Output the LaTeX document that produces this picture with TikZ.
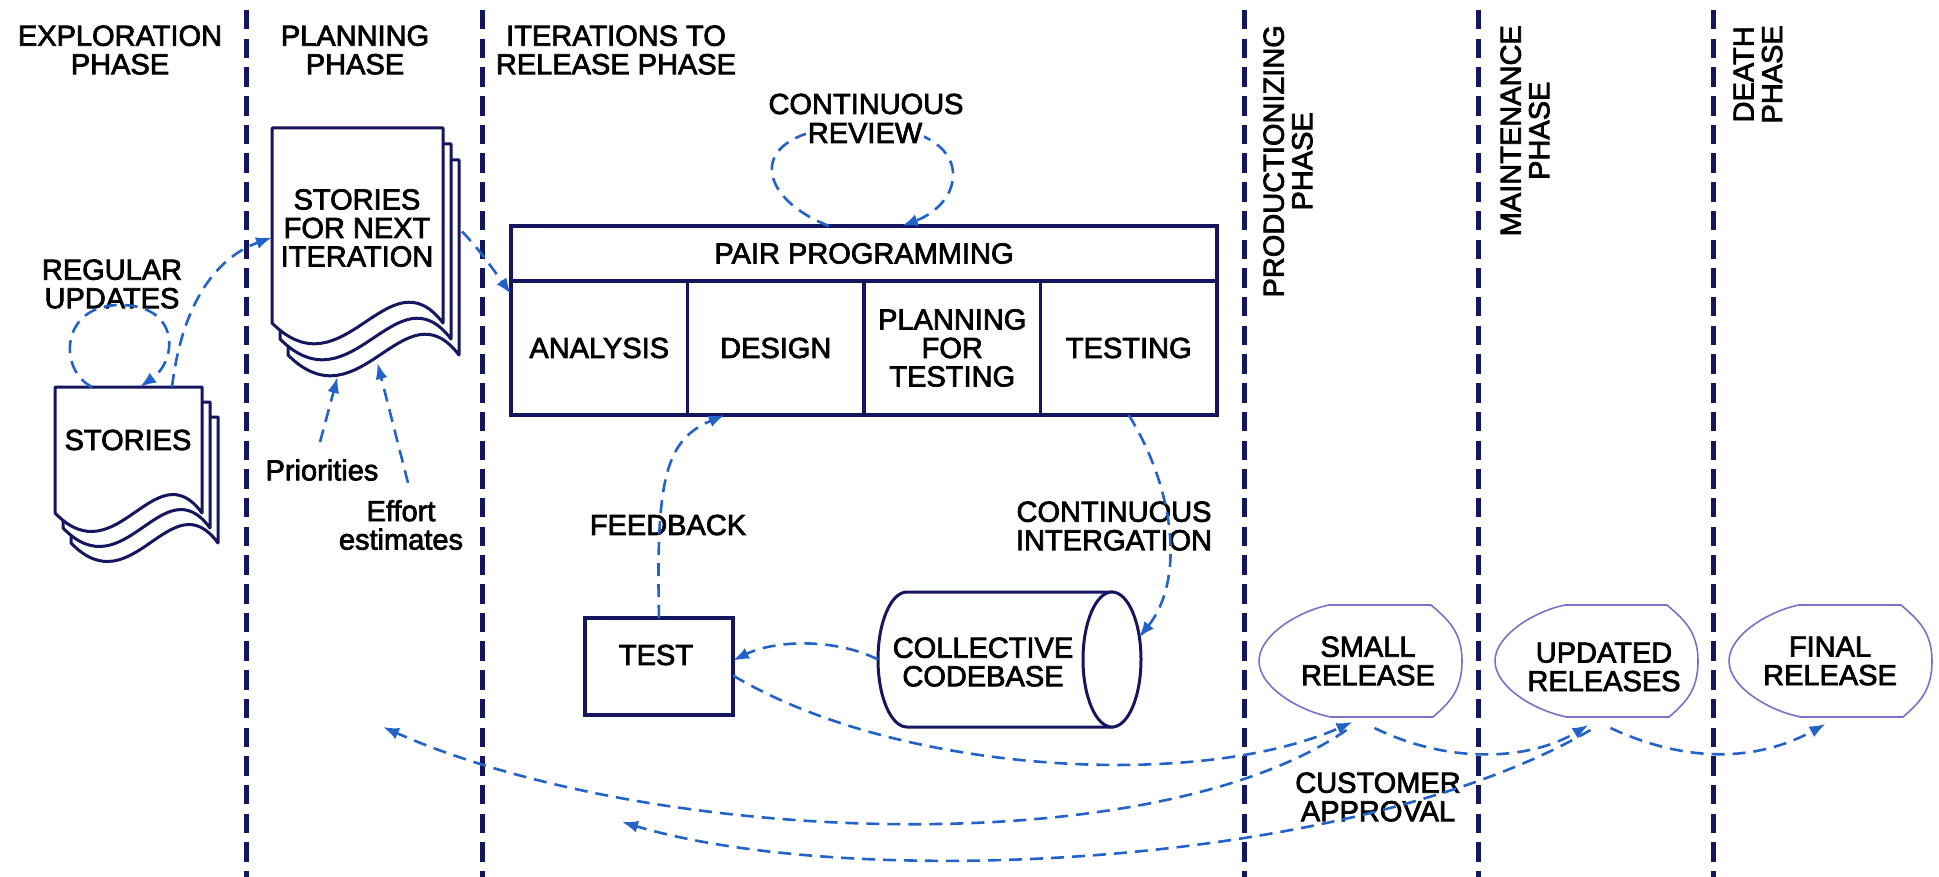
\documentclass[tikz,border=0pt]{standalone}
\usepackage{fontspec}
\setmainfont{Liberation Sans}[FakeBold=2.5]
\usetikzlibrary{arrows.meta,calc}

\definecolor{navy}{RGB}{22,22,96}
\definecolor{flowblue}{RGB}{35,98,200}
\definecolor{lilac}{RGB}{125,110,200}

\tikzset{
  phaseline/.style={navy, line width=5pt, dash pattern=on 19.5pt off 9.2pt},
  flow/.style={flowblue, line width=2.6pt, dash pattern=on 13pt off 8pt,
               -{Latex[length=16pt,width=12pt]}},
  lbl/.style={font=\fontsize{29}{28.5}\selectfont, align=center, inner sep=0pt, text=black},
  vlbl/.style={lbl, rotate=90, anchor=east},
  ppcell/.style={draw=navy, line width=3.5pt, minimum width=176.5pt, minimum height=134pt,
                 inner sep=0pt, outer sep=0pt, lbl},
  holder/.style={inner sep=0pt, outer sep=0pt},
  sheetline/.style={draw=navy, line width=3pt, fill=white, line join=round},
  cylline/.style={draw=navy, line width=3pt, fill=white},
  releaseline/.style={draw=lilac, line width=1.6pt, fill=white},
}

% one page of a stacked document, shifted by (#2,#3), wave depth #4
\newcommand{\docsheet}[4]{%
  \path[sheetline] ($(#1.north west)+(#2,#3)$) -- ($(#1.north east)+(#2,#3)$)
    -- ($(#1.south east)+(#2,#3)$)
    .. controls ($(#1.south west)!0.68!(#1.south east)+(#2,#3-#4)$)
       and ($(#1.south west)!0.42!(#1.south east)+(#2,#3+#4)$)
    .. ($(#1.south west)+(#2,#3)$) -- cycle;}

% release outline: wide bulge on the left, flatter arc on the right
\newcommand{\releaseshape}[1]{%
  \path[releaseline] ($(#1.north west)+(70,0)$) -- ($(#1.north west)+(172,0)$)
    .. controls ($(#1.north west)+(188,14)$) and ($(#1.east)+(0,-30)$) .. (#1.east)
    .. controls ($(#1.east)+(0,30)$) and ($(#1.south west)+(190,-14)$) .. ($(#1.south west)+(174,0)$)
    -- ($(#1.south west)+(72,0)$)
    .. controls ($(#1.south west)+(40,-6)$) and ($(#1.west)+(0,26)$) .. (#1.west)
    .. controls ($(#1.west)+(0,-26)$) and ($(#1.north west)+(40,6)$) .. cycle;}

\begin{document}
\begin{tikzpicture}[x=1pt, y=-1pt]
\useasboundingbox (0,0) rectangle (1939,877);

% phase separators
\foreach \x/\n in {246/a,482/b,1244/c,1478/d,1713/e}{
  \coordinate (top\n) at (\x,10);
  \coordinate (bot\n) at (\x,877);
  \draw[phaseline] (top\n) -- (bot\n);
}

% phase titles
\node[lbl] (explo) at (120,50) {EXPLORATION\\PHASE};
\node[lbl] (plan) at (355,50) {PLANNING\\PHASE};
\node[lbl] (iter) at (616,50) {ITERATIONS TO\\RELEASE PHASE};
\node[vlbl] (prod) at (1288,25) {PRODUCTIONIZING\\PHASE};
\node[vlbl] (maint) at (1525,25) {MAINTENANCE\\PHASE};
\node[vlbl] (death) at (1758,25) {DEATH\\PHASE};

% stacked story documents
\node[holder, minimum width=147pt, minimum height=126pt] (stories) at (128.5,450) {};
\node[holder, minimum width=171pt, minimum height=195pt] (next) at (357.5,225.5) {};
\foreach \k in {2,1,0}{
  \docsheet{stories}{8*\k}{15*\k}{64}
  \docsheet{next}{8*\k}{16*\k}{72}
}
\node[lbl] (storieslbl) at (128,440) {STORIES};
\node[lbl] (nextlbl) at (357,228) {STORIES\\FOR NEXT\\ITERATION};
\node[lbl] (regular) at (112,284) {REGULAR\\UPDATES};
\node[lbl] (prio) at (322,470) {Priorities};
\node[lbl] (effort) at (401,525) {Effort\\estimates};

% pair programming block
\node[ppcell, minimum width=706pt, minimum height=55pt] (pp) at (864,253.5) {PAIR PROGRAMMING};
\node[ppcell] (analysis) at (599.25,348) {ANALYSIS};
\node[ppcell] (design) at (775.75,348) {DESIGN};
\node[ppcell] (planning) at (952.25,348) {PLANNING\\FOR\\TESTING};
\node[ppcell] (testing) at (1128.75,348) {TESTING};

\node[lbl] (crtop) at (866,104) {CONTINUOUS};
\node[lbl] (feedback) at (668,525) {FEEDBACK};
\node[lbl] (ci) at (1114,526) {CONTINUOUS\\INTERGATION};

% test box and code base
\node[draw=navy, line width=3.5pt, minimum width=148pt, minimum height=97pt, outer sep=0pt] (test) at (659,666.5) {};
\node[lbl] (testlbl) at (656,655) {TEST};
\node[holder, minimum width=263pt, minimum height=135pt] (cyl) at (1009.5,659.5) {};
\path[cylline] ($(cyl.north east)+(-29,0)$) -- ($(cyl.north west)+(29,0)$)
  arc[start angle=270, end angle=90, x radius=29, y radius=67.5]
  -- ($(cyl.south east)+(-29,0)$) -- cycle;
\path[cylline] ($(cyl.east)+(-29,0)$) ellipse [x radius=29, y radius=67.5];
\node[lbl] (cyllbl) at (983,662) {COLLECTIVE\\CODEBASE};

% releases
\node[holder, minimum width=203pt, minimum height=112pt] (small) at (1360.5,661) {};
\node[holder, minimum width=203pt, minimum height=112pt] (updated) at (1596.5,661) {};
\node[holder, minimum width=203pt, minimum height=112pt] (final) at (1830.5,661) {};
\releaseshape{small}
\releaseshape{updated}
\releaseshape{final}
\node[lbl] (smalllbl) at (1368,661) {SMALL\\RELEASE};
\node[lbl] (updatedlbl) at (1604,667) {UPDATED\\RELEASES};
\node[lbl] (finallbl) at (1830,661) {FINAL\\RELEASE};
\node[lbl] (approval) at (1378,797) {CUSTOMER\\APPROVAL};

\coordinate (backplan) at (383,727);
\coordinate (backiter) at (622,822);

% flows
\draw[flow] ($(stories.north west)+(37,0)$) .. controls (58,370) and (60,305) .. (120,305)
  .. controls (180,305) and (178,360) .. ($(stories.north west)+(85,0)$);
\draw[flow] ($(stories.north west)+(117,0)$) .. controls (182,305) and (215,258) .. ($(next.west)+(0,12)$);
\draw[flow] ($(next.east)+(19,6)$) .. controls (480,250) and (495,272) .. ($(analysis.north west)+(0,13)$);
\draw[flow] ($(prio.north)+(-2,-17)$) -- ($(next.south)+(-20,54)$);
\draw[flow] ($(effort.north)+(7,-17)$) -- ($(next.south)+(20,40)$);

\draw[flow] ($(pp.north)+(-35,0)$) .. controls (750,195) and (745,126) .. (864,126)
  .. controls (975,126) and (970,200) .. ($(pp.north)+(38,0)$);
\node[lbl, fill=white, inner sep=2pt] (crbot) at (865,133) {REVIEW};

\draw[flow] (test.north) .. controls (656,480) and (665,440) .. ($(design.south)+(-51,0)$);
\draw[flow] (testing.south) .. controls (1175,490) and (1185,580) .. ($(cyl.east)+(-2,-22)$);
\draw[flow] (cyl.west) .. controls (835,638) and (775,640) .. ($(test.east)+(0,-6)$);
\draw[flow] ($(test.east)+(0,9)$) .. controls (900,775) and (1200,790) .. ($(small.south)+(-8,5)$);
\draw[flow] ($(small.south)+(-14,13)$) .. controls (1150,865) and (650,845) .. (backplan);
\draw[flow] ($(updated.south)+(-6,13)$) .. controls (1350,870) and (850,890) .. (backiter);
\draw[flow] ($(small.south)+(14,11)$) .. controls (1450,765) and (1530,760) .. ($(updated.south)+(-8,8)$);
\draw[flow] ($(updated.south)+(14,11)$) .. controls (1690,765) and (1760,760) .. ($(final.south)+(-5,7)$);
\end{tikzpicture}
\end{document}
